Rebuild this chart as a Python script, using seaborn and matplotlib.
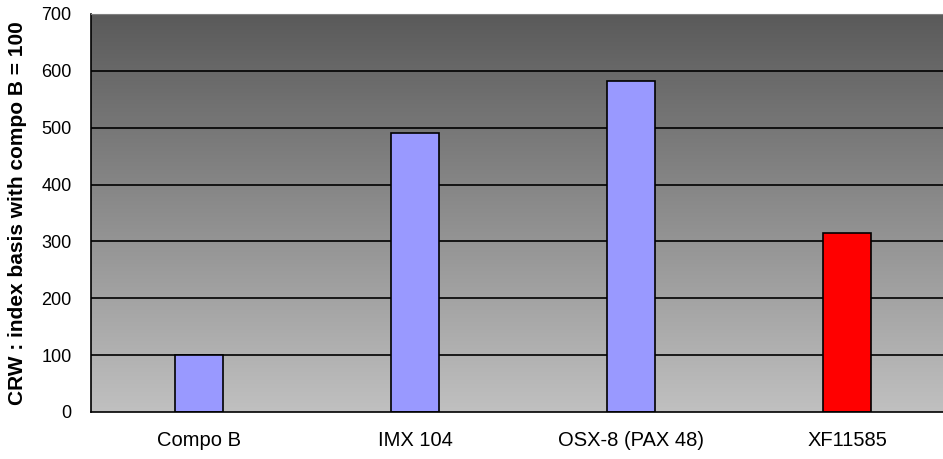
import numpy as np
import pandas as pd
import matplotlib
matplotlib.use('Agg')
import matplotlib.pyplot as plt
from matplotlib.colors import LinearSegmentedColormap
import seaborn as sns

categories = ['Compo B', 'IMX 104', 'OSX-8 (PAX 48)', 'XF11585']
crw_index = [100, 490, 582, 315]
bar_colors = ['#9999ff', '#9999ff', '#9999ff', '#ff0000']
y_ticks = [0, 100, 200, 300, 400, 500, 600, 700]

sns.set_style('white')
plt.rcParams['font.family'] = ['Liberation Sans', 'DejaVu Sans']
plt.rcParams['text.color'] = 'black'
plt.rcParams['axes.labelcolor'] = 'black'
plt.rcParams['xtick.color'] = 'black'
plt.rcParams['ytick.color'] = 'black'

data = pd.DataFrame({'material': categories, 'crw': crw_index})

fig = plt.figure(figsize=(9.43, 4.59), dpi=100)
# plot area runs past the right edge, like the original export
ax_ = fig.add_axes([91 / 943, 47 / 459, 864 / 943, 398 / 459])

# grey gradient background of the plot area
grad = np.linspace(1, 0, 256).reshape(-1, 1)
cmap_ = LinearSegmentedColormap.from_list('bg', ['#c0c0c0', '#5a5a5a'])
ax_.imshow(grad, extent=[-0.5, 3.5, 0, 700], aspect='auto', cmap=cmap_,
           origin='upper', zorder=0)

for y in y_ticks[1:-1]:
    ax_.axhline(y, color='black', linewidth=1.2, zorder=1)

sns.barplot(
    data=data,
    x='material',
    y='crw',
    hue='material',
    palette=bar_colors,
    legend=False,
    width=0.218,
    edgecolor='black',
    linewidth=1.2,
    saturation=1,
    zorder=2,
    ax=ax_,
)

ax_.set_xlim(-0.5, 3.5)
ax_.set_ylim(0, 700)
ax_.set_yticks(y_ticks)
ax_.set_yticklabels([str(t) for t in y_ticks], fontsize=13)

ax_.set_xticks([-0.5, 0.5, 1.5, 2.5, 3.5])
ax_.set_xticklabels([])
ax_.set_xticks(range(len(categories)), minor=True)
ax_.set_xticklabels(categories, minor=True, fontsize=14.5)
ax_.tick_params(axis='x', which='major', direction='out', length=5, width=1, color='black')
ax_.tick_params(axis='x', which='minor', length=0, pad=14)
ax_.tick_params(axis='y', direction='out', length=6, width=1, color='black', pad=8)

ax_.set_xlabel('')
ax_.set_ylabel('CRW : index basis with compo B = 100', fontsize=15,
               fontweight='bold', labelpad=10)

for side in ['left', 'bottom']:
    ax_.spines[side].set_color('black')
    ax_.spines[side].set_linewidth(1.2)
ax_.spines['top'].set_color('#808080')
ax_.spines['right'].set_visible(False)

plt.savefig('out.png', dpi=100)
